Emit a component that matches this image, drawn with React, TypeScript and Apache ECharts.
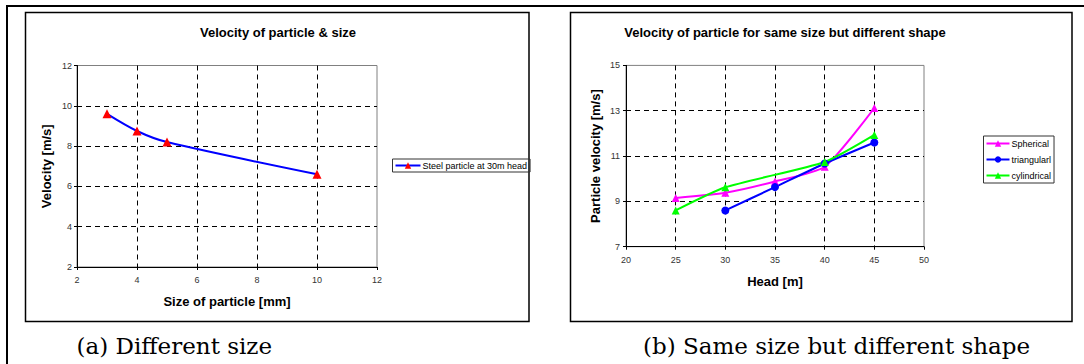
import React, { useEffect, useRef } from "react";
import * as echarts from "echarts";

// Panel (a): velocity vs particle size
const sizeMm = [3, 4, 5, 10];
const steelVelocity = [9.6, 8.75, 8.2, 6.6];
const sizeTicks = { min: 2, max: 12, interval: 2 };
const velTicksA = { min: 2, max: 12, interval: 2 };

// Panel (b): velocity vs head for different shapes
const sphericalHead = [25, 30, 35, 40, 45];
const sphericalVel = [9.15, 9.38, 9.88, 10.53, 13.12];
const triangularHead = [30, 35, 40, 45];
const triangularVel = [8.6, 9.63, 10.67, 11.6];
const cylindricalHead = [25, 30, 40, 45];
const cylindricalVel = [8.6, 9.62, 10.74, 11.93];
const headTicks = { min: 20, max: 50, interval: 5 };
const velTicksB = { min: 7, max: 15, interval: 2 };

const SANS = '"Liberation Sans", Arial, sans-serif';
const SERIF = '"DejaVu Serif", serif';

const pairs = (xs: number[], ys: number[]) => xs.map((x, i) => [x, ys[i]]);

function valueAxis(gridIndex: number, t: { min: number; max: number; interval: number }, name: string, labelMargin: number, nameGap: number) {
  return {
    type: "value",
    gridIndex,
    min: t.min,
    max: t.max,
    interval: t.interval,
    name,
    nameLocation: "middle",
    nameGap,
    nameTextStyle: { fontFamily: SANS, fontSize: 13, fontWeight: "bold", color: "#000" },
    axisLine: { show: true, onZero: false, lineStyle: { color: "#000", width: 1 } },
    axisTick: { show: true, inside: false, length: 3, lineStyle: { color: "#000" } },
    axisLabel: { fontFamily: SANS, fontSize: 9, color: "#333", margin: labelMargin },
    splitLine: {
      show: true,
      showMinLine: false,
      showMaxLine: false,
      lineStyle: { color: "#000", type: [5, 4], width: 1 },
    },
  };
}

export default function App() {
  const ref = useRef<HTMLDivElement>(null);

  useEffect(() => {
    if (!ref.current) return;
    const chart = echarts.init(ref.current, null, { renderer: "svg" });
    const option = {
      animation: false,
      backgroundColor: "#fff",
      grid: [
        { left: 77, top: 65.5, width: 300, height: 201.5, show: true, borderColor: "#808080", borderWidth: 1, backgroundColor: "#fff", containLabel: false },
        { left: 626, top: 65.4, width: 298, height: 181.3, show: true, borderColor: "#808080", borderWidth: 1, backgroundColor: "#fff", containLabel: false },
      ],
      xAxis: [
        valueAxis(0, sizeTicks, "Size of particle [mm]", 8, 28),
        valueAxis(1, headTicks, "Head [m]", 9, 28),
      ],
      yAxis: [
        valueAxis(0, velTicksA, "Velocity [m/s]", 5, 24),
        valueAxis(1, velTicksB, "Particle velocity [m/s]", 6, 24),
      ],
      legend: [
        {
          left: 392.5,
          top: 159,
          orient: "horizontal",
          data: ["Steel particle at 30m head"],
          borderColor: "#333",
          borderWidth: 1,
          borderRadius: 0,
          padding: [2, 3, 2, 2],
          itemWidth: 25,
          itemHeight: 8,
          textStyle: { fontFamily: SANS, fontSize: 9, color: "#000", padding: [0, 0, 0, -3] },
        },
        {
          left: 983.5,
          top: 136,
          orient: "vertical",
          data: ["Spherical", "triangularl", "cylindrical"],
          borderColor: "#333",
          borderWidth: 1,
          borderRadius: 0,
          padding: [2, 3, 2, 2],
          itemGap: 5,
          itemWidth: 23,
          itemHeight: 8,
          textStyle: { fontFamily: SANS, fontSize: 9, color: "#000", lineHeight: 11, padding: [0, 0, 0, -3] },
        },
      ],
      series: [
        {
          name: "Steel particle at 30m head",
          type: "line",
          xAxisIndex: 0,
          yAxisIndex: 0,
          data: pairs(sizeMm, steelVelocity),
          smooth: 0.3,
          symbol: "triangle",
          symbolSize: 9,
          lineStyle: { color: "#0000FF", width: 2 },
          itemStyle: { color: "#FF0000" },
        },
        {
          name: "Spherical",
          type: "line",
          xAxisIndex: 1,
          yAxisIndex: 1,
          data: pairs(sphericalHead, sphericalVel),
          smooth: 0.2,
          symbol: "triangle",
          symbolSize: 8,
          lineStyle: { color: "#FF00FF", width: 2 },
          itemStyle: { color: "#FF00FF" },
        },
        {
          name: "triangularl",
          type: "line",
          xAxisIndex: 1,
          yAxisIndex: 1,
          data: pairs(triangularHead, triangularVel),
          smooth: 0.2,
          symbol: "circle",
          symbolSize: 8,
          lineStyle: { color: "#0000FF", width: 2 },
          itemStyle: { color: "#0000FF" },
        },
        {
          name: "cylindrical",
          type: "line",
          xAxisIndex: 1,
          yAxisIndex: 1,
          data: pairs(cylindricalHead, cylindricalVel),
          smooth: 0.2,
          symbol: "triangle",
          symbolSize: 8,
          lineStyle: { color: "#00FF00", width: 2 },
          itemStyle: { color: "#00FF00" },
        },
      ],
      graphic: [
        { type: "line", z: 100, shape: { x1: 6, y1: 6, x2: 1084, y2: 6 }, style: { stroke: "#000", lineWidth: 2 } },
        { type: "line", z: 100, shape: { x1: 7, y1: 5, x2: 7, y2: 364 }, style: { stroke: "#000", lineWidth: 2 } },
        { type: "rect", z: -10, shape: { x: 25.5, y: 12.5, width: 503.5, height: 309 }, style: { fill: "none", stroke: "#000", lineWidth: 1.5 } },
        { type: "rect", z: -10, shape: { x: 570.5, y: 12.5, width: 501.5, height: 309 }, style: { fill: "none", stroke: "#000", lineWidth: 1.5 } },
        { type: "text", x: 278, y: 32, style: { text: "Velocity of particle & size", font: `bold 13px ${SANS}`, fill: "#000", align: "center", verticalAlign: "middle" } },
        { type: "text", x: 785, y: 32, style: { text: "Velocity of particle for same size but different shape", font: `bold 13px ${SANS}`, fill: "#000", align: "center", verticalAlign: "middle" } },
        { type: "text", x: 76.5, y: 346, style: { text: "(a) Different size", font: `23px ${SERIF}`, fill: "#000", align: "left", verticalAlign: "middle" } },
        { type: "text", x: 643, y: 346, style: { text: "(b) Same size but different shape", font: `23px ${SERIF}`, fill: "#000", align: "left", verticalAlign: "middle" } },
      ],
    };
    chart.setOption(option as any);
    return () => chart.dispose();
  }, []);

  return (
    <div
      ref={ref}
      style={{ position: "absolute", left: 0, top: 0, width: 1084, height: 364, background: "#fff" }}
    />
  );
}
